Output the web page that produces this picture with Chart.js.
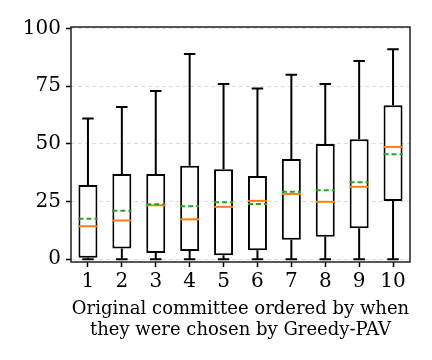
<!DOCTYPE html>
<html>
<head>
<meta charset="utf-8">
<script src="https://cdn.jsdelivr.net/npm/chart.js@4.4.1/dist/chart.umd.min.js"></script>
<style>
  html, body { margin: 0; padding: 0; background: #fff; }
  #wrap { width: 432px; height: 360px; }
</style>
</head>
<body>
<div id="wrap"><canvas id="boxChart" width="432" height="360"></canvas></div>
<script>
// data
const categories  = ['1', '2', '3', '4', '5', '6', '7', '8', '9', '10'];
const whiskerLow  = [0, 0, 0, 0, 0, 0, 0, 0, 0, 0];
const q1          = [0.6, 4.6, 2.7, 3.6, 1.7, 3.9, 8.5, 9.8, 13.4, 25.3];
const medians     = [14.3, 16.8, 23.4, 17.3, 22.7, 25.3, 28.3, 24.9, 31.4, 48.7];
const means       = [17.5, 21.0, 23.8, 23.0, 24.7, 24.0, 29.3, 29.9, 33.4, 45.5];
const q3          = [32.2, 37.0, 37.0, 40.5, 39.0, 36.1, 43.5, 50.0, 52.0, 66.8];
const whiskerHigh = [61, 66, 73, 89, 76, 74, 80, 76, 86, 91];
const yTicks      = [0, 25, 50, 75, 100];

const FONT = "'DejaVu Serif', serif";

// whiskers, caps, median + mean lines and the frame, drawn via the chart scales
const boxExtras = {
  id: 'boxExtras',
  afterDatasetsDraw(chart) {
    const { ctx, chartArea, scales: { x, y } } = chart;
    const meta = chart.getDatasetMeta(0);
    ctx.save();
    ctx.lineWidth = 2;
    meta.data.forEach((bar, i) => {
      const cx   = x.getPixelForValue(i);
      const half = bar.width / 2;
      const cap  = half / 2 + 1;
      const yLo = y.getPixelForValue(whiskerLow[i]);
      const yHi = y.getPixelForValue(whiskerHigh[i]);
      const yQ1 = y.getPixelForValue(q1[i]);
      const yQ3 = y.getPixelForValue(q3[i]);

      ctx.strokeStyle = '#000';
      ctx.setLineDash([]);
      ctx.beginPath();
      ctx.moveTo(cx, yQ3); ctx.lineTo(cx, yHi);
      ctx.moveTo(cx, yQ1); ctx.lineTo(cx, yLo);
      ctx.moveTo(cx - cap, yHi); ctx.lineTo(cx + cap, yHi);
      ctx.moveTo(cx - cap, yLo); ctx.lineTo(cx + cap, yLo);
      ctx.stroke();

      const yMed = y.getPixelForValue(medians[i]);
      ctx.strokeStyle = '#ff7f0e';
      ctx.beginPath();
      ctx.moveTo(cx - half, yMed); ctx.lineTo(cx + half, yMed);
      ctx.stroke();

      const yMean = y.getPixelForValue(means[i]);
      ctx.strokeStyle = '#2ca02c';
      ctx.setLineDash([5, 3]);
      ctx.beginPath();
      ctx.moveTo(cx - half, yMean); ctx.lineTo(cx + half, yMean);
      ctx.stroke();
    });
    // frame
    ctx.setLineDash([]);
    ctx.strokeStyle = '#222';
    ctx.lineWidth = 1.5;
    ctx.strokeRect(chartArea.left, chartArea.top,
                   chartArea.right - chartArea.left, chartArea.bottom - chartArea.top);
    ctx.restore();
  }
};

new Chart(document.getElementById('boxChart'), {
  type: 'bar',
  data: {
    labels: categories,
    datasets: [{
      data: q1.map((v, i) => [v, q3[i]]),
      backgroundColor: '#ffffff',
      borderColor: '#000000',
      borderWidth: 2,
      borderSkipped: false,
      barPercentage: 0.56,
      categoryPercentage: 1.0
    }]
  },
  options: {
    responsive: false,
    animation: false,
    layout: { padding: { left: 0, right: 22, top: 27, bottom: 0 } },
    plugins: { legend: { display: false }, tooltip: { enabled: false } },
    scales: {
      x: {
        offset: true,
        border: { display: false },
        grid: {
          offset: false, drawOnChartArea: false, drawTicks: true,
          tickLength: 5, tickColor: '#000', tickWidth: 1.5
        },
        ticks: { color: '#000', padding: 3, font: { family: FONT, size: 20 } },
        title: {
          display: true,
          text: ['Original committee ordered by when', 'they were chosen by Greedy-PAV'],
          color: '#000',
          font: { family: FONT, size: 18, lineHeight: 1.12 },
          padding: { top: 0, bottom: 20 }
        },
        afterFit: s => { s.height = 98; }
      },
      y: {
        min: -1.2,
        max: 100.7,
        border: { display: false, dash: [4, 3] },
        grid: {
          color: '#dddddd', lineWidth: 1,
          tickLength: 5, tickColor: '#000', tickWidth: 1.5, tickBorderDash: []
        },
        afterBuildTicks: s => { s.ticks = yTicks.map(v => ({ value: v })); },
        ticks: { color: '#000', padding: 5, font: { family: FONT, size: 20 } },
        afterFit: s => { s.width = 71; }
      }
    }
  },
  plugins: [boxExtras]
});
</script>
</body>
</html>
